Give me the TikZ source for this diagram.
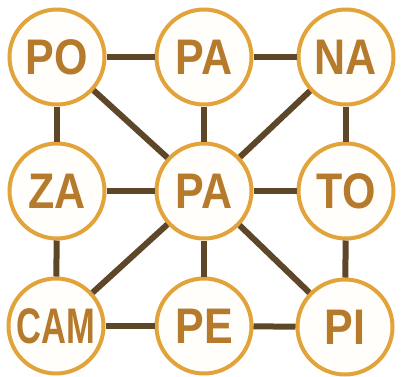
\documentclass[tikz,border=0pt]{standalone}
\usepackage{fontspec}
\setmainfont{Liberation Sans}
\definecolor{ring}{HTML}{E2A43A}
\definecolor{txt}{HTML}{B57A2C}
\definecolor{bar}{HTML}{5E4628}
\definecolor{fillc}{HTML}{FFFEFA}
\newcommand{\lbl}[2][0.86]{\scalebox{#1}[1]{#2}}
\begin{document}
\begin{tikzpicture}[x=1pt,y=-1pt,
  bubble/.style={circle,draw=ring,line width=4pt,fill=fillc,minimum size=95pt,inner sep=0pt,
    text=txt,font=\fontsize{50}{50}\selectfont\bfseries},
  link/.style={draw=bar,line width=6pt}]
\useasboundingbox (0,0) rectangle (402,376);
\fill[white] (0,0) rectangle (402,376);
\node[bubble] (po) at (57,57) {\lbl{PO}};
\node[bubble] (pa) at (204,57) {\lbl{PA}};
\node[bubble] (na) at (346,57) {\lbl{NA}};
\node[bubble] (za) at (57,191) {\lbl{ZA}};
\node[bubble] (pm) at (204,191) {\lbl{PA}};
\node[bubble] (to) at (346,191) {\lbl{TO}};
\node[bubble] (cam) at (56,326) {\lbl[0.69]{CAM}};
\node[bubble] (pe) at (204,326) {\lbl{PE}};
\node[bubble] (pi) at (345,327) {\lbl{PI}};
\path[link] (po) -- (pa);
\path[link] (pa) -- (na);
\path[link] (za) -- (pm);
\path[link] (pm) -- (to);
\path[link] (cam) -- (pe);
\path[link] (pe) -- (pi);
\path[link] (po) -- (za);
\path[link] (za) -- (cam);
\path[link] (pa) -- (pm);
\path[link] (pm) -- (pe);
\path[link] (na) -- (to);
\path[link] (to) -- (pi);
\path[link] (po) -- (pm);
\path[link] (na) -- (pm);
\path[link] (cam) -- (pm);
\path[link] (pi) -- (pm);
\end{tikzpicture}
\end{document}
